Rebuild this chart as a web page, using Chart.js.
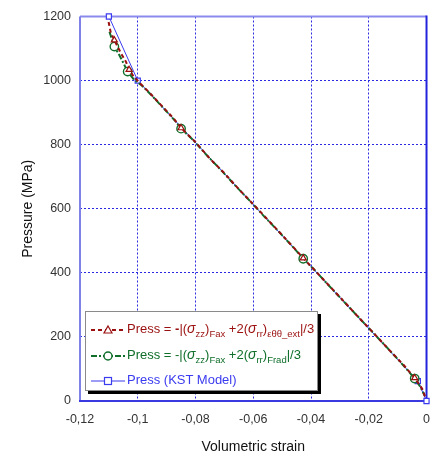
<!DOCTYPE html>
<html>
<head>
<meta charset="utf-8">
<script src="https://cdn.jsdelivr.net/npm/chart.js@4.4.0/dist/chart.umd.min.js"></script>
<style>
  body { margin: 0; background: #fff; }
  #wrap { position: relative; width: 441px; height: 457px; }
  #legend {
    position: absolute; left: 85px; top: 311px; width: 233px; height: 80px;
    background: #fff; border: 1px solid #8a8a8a; box-shadow: 3px 3px 0 #000;
    font-family: "Liberation Sans", Arial, sans-serif; font-size: 13px;
    padding-top: 3px; box-sizing: border-box;
  }
  #legend .row { height: 26px; line-height: 26px; white-space: nowrap; }
  #legend svg { vertical-align: middle; margin: 0 2px 0 5px; }
  #legend sub { font-size: 9.5px; vertical-align: -4px; line-height: 0; }
  #legend i { font-size: 14px; }
</style>
</head>
<body>
<div id="wrap">
  <canvas id="chart" width="441" height="457"></canvas>
  <div id="legend"></div>
</div>
<script>
// tick values and labels
const xTicks = [-0.12, -0.1, -0.08, -0.06, -0.04, -0.02, 0];
const xTickLabels = ["-0,12", "-0,1", "-0,08", "-0,06", "-0,04", "-0,02", "0"];
const yTicks = [0, 200, 400, 600, 800, 1000, 1200];
const yTickLabels = ["0", "200", "400", "600", "800", "1000", "1200"];

// Press = -|(szz)Fax + 2(srr)e_ext|/3
const redX = [-0.1101, -0.1094, -0.1081, -0.1058, -0.1041, -0.1030, -0.1018, -0.0995, -0.0960, -0.0920, -0.0880,
  -0.0850, -0.0800, -0.0750, -0.0700, -0.0650, -0.0600, -0.0550, -0.0500, -0.0450, -0.0427, -0.0380,
  -0.0330, -0.0280, -0.0230, -0.0180, -0.0130, -0.0080, -0.0041, -0.0015, -0.0003];
const redY = [1183, 1152, 1126, 1085, 1059, 1034, 1018, 994, 963, 924, 886, 852, 808, 756, 711, 661, 614, 566,
  518, 469, 446, 401, 353, 305, 256, 209, 160, 113, 72, 38, 8];

// Press = -|(szz)Fax + 2(srr)Frad|/3
const greenX = [-0.1098, -0.1092, -0.1081, -0.1064, -0.1052, -0.1035, -0.1013, -0.0985, -0.0950, -0.0910, -0.0870,
  -0.0850, -0.0810, -0.0760, -0.0710, -0.0660, -0.0610, -0.0560, -0.0510, -0.0460, -0.0427, -0.0390,
  -0.0340, -0.0290, -0.0240, -0.0190, -0.0140, -0.0090, -0.0041, -0.0020, -0.0007];
const greenY = [1152, 1136, 1106, 1080, 1059, 1028, 1003, 984, 952, 913, 874, 850, 816, 766, 719, 670, 623, 574,
  527, 478, 444, 411, 362, 314, 266, 218, 170, 121, 70, 42, 18];

// points that carry a marker in the two measured series
const markerIdx = [2, 5, 11, 20, 28];

// Press (KST Model)
const kstX = [-0.11, -0.1, -0.003, 0];
const kstY = [1200, 1000, 62, 0];

const RED = "#9a0f0f";
const GREEN = "#0f6e2a";
const BLUE = "#3b3bf0";

function pts(xs, ys) {
  return xs.map((x, i) => ({ x: x, y: ys[i] }));
}
function radii(n, r) {
  const out = [];
  for (let i = 0; i < n; i++) out.push(markerIdx.includes(i) ? r : 0);
  return out;
}

// plot frame, drawn under the data
const framePlugin = {
  id: "frame",
  beforeDatasetsDraw(chart) {
    const { ctx, chartArea: a } = chart;
    ctx.save();
    ctx.lineWidth = 2;
    const side = (x1, y1, x2, y2, c) => {
      ctx.strokeStyle = c;
      ctx.beginPath();
      ctx.moveTo(x1, y1);
      ctx.lineTo(x2, y2);
      ctx.stroke();
    };
    side(a.left, a.top, a.right, a.top, "#8a8aec");
    side(a.left, a.top, a.left, a.bottom, "#8080ea");
    side(a.right, a.top - 1, a.right, a.bottom, "#2323dc");
    side(a.left - 1, a.bottom, a.right + 1, a.bottom, "#3a3ae0");
    ctx.restore();
  }
};

const ctx = document.getElementById("chart").getContext("2d");
const chart = new Chart(ctx, {
  type: "scatter",
  data: {
    datasets: [
      {
        label: "Press = -|(σzz)Fax +2(σrr)εθθ_ext|/3",
        data: pts(redX, redY),
        showLine: true,
        clip: false,
        borderColor: RED,
        borderWidth: 2,
        borderDash: [4, 3],
        pointStyle: "triangle",
        pointRadius: radii(redX.length, 3.5),
        pointBackgroundColor: "#fff",
        pointBorderColor: RED,
        pointBorderWidth: 1.2,
      },
      {
        label: "Press = -|(σzz)Fax +2(σrr)Frad|/3",
        data: pts(greenX, greenY),
        showLine: true,
        clip: false,
        borderColor: GREEN,
        borderWidth: 2,
        borderDash: [6, 2, 2, 2],
        pointStyle: "circle",
        pointRadius: radii(greenX.length, 4.2),
        pointBackgroundColor: "#fff",
        pointBorderColor: GREEN,
        pointBorderWidth: 1.4,
      },
      {
        label: "Press (KST Model)",
        data: pts(kstX, kstY),
        showLine: true,
        clip: false,
        borderColor: BLUE,
        borderWidth: 1,
        pointStyle: "rect",
        pointRadius: 3.6,
        pointBackgroundColor: "#fff",
        pointBorderColor: BLUE,
        pointBorderWidth: 1.2,
      },
    ],
  },
  options: {
    responsive: false,
    animation: false,
    layout: { padding: { top: 13, right: 9, left: 0, bottom: 0 } },
    plugins: { legend: { display: false }, tooltip: { enabled: false } },
    scales: {
      x: {
        type: "linear",
        min: -0.12,
        max: 0,
        afterBuildTicks: (s) => { s.ticks = xTicks.map((v) => ({ value: v })); },
        afterFit: (s) => { s.height = 56; },
        ticks: {
          padding: 11,
          color: "#333",
          font: { family: "Liberation Sans, Arial", size: 12.5 },
          callback: (v, i) => xTickLabels[i],
        },
        grid: { color: "#2a2ae0", lineWidth: 1, drawTicks: false },
        border: { display: false, dash: [2, 2] },
        title: {
          display: true,
          text: "Volumetric strain",
          color: "#111",
          font: { family: "Liberation Sans, Arial", size: 14 },
          padding: { top: 0, bottom: 1 },
        },
      },
      y: {
        min: 0,
        max: 1200,
        afterBuildTicks: (s) => { s.ticks = yTicks.map((v) => ({ value: v })); },
        afterFit: (s) => { s.width = 80; },
        ticks: {
          padding: 9,
          color: "#333",
          font: { family: "Liberation Sans, Arial", size: 12.5 },
          callback: (v, i) => yTickLabels[i],
        },
        grid: { color: "#2a2ae0", lineWidth: 1, drawTicks: false },
        border: { display: false, dash: [2, 2] },
        title: {
          display: true,
          text: "Pressure (MPa)",
          color: "#111",
          font: { family: "Liberation Sans, Arial", size: 14 },
          padding: { top: 20, bottom: 0 },
        },
      },
    },
  },
  plugins: [framePlugin],
});

// HTML legend (needs subscripts)
const legendRows = [
  { color: RED, html: 'Press = <b>-</b>|(<i>σ</i><sub>zz</sub>)<sub>Fax</sub> +2(<i>σ</i><sub>rr</sub>)<sub>εθθ_ext</sub>|/3' },
  { color: GREEN, html: 'Press = -|(<i>σ</i><sub>zz</sub>)<sub>Fax</sub> +2(<i>σ</i><sub>rr</sub>)<sub>Frad</sub>|/3' },
  { color: BLUE, html: 'Press (KST Model)' },
];

function sample(ds) {
  const dash = ds.borderDash ? ds.borderDash.join(",") : "none";
  let mark = "";
  if (ds.pointStyle === "triangle") mark = '<polygon points="17,2 21,9 13,9" fill="#fff" stroke="' + ds.borderColor + '" stroke-width="1.2"/>';
  if (ds.pointStyle === "circle") mark = '<circle cx="17" cy="6" r="4" fill="#fff" stroke="' + ds.borderColor + '" stroke-width="1.4"/>';
  if (ds.pointStyle === "rect") mark = '<rect x="13.5" y="2.5" width="7" height="7" fill="#fff" stroke="' + ds.borderColor + '" stroke-width="1.2"/>';
  return '<svg width="34" height="12"><line x1="0" y1="6" x2="34" y2="6" stroke="' + ds.borderColor +
    '" stroke-width="' + ds.borderWidth + '" stroke-dasharray="' + dash + '"/>' + mark + '</svg>';
}

document.getElementById("legend").innerHTML = legendRows.map((r, i) =>
  '<div class="row" style="color:' + r.color + '">' + sample(chart.data.datasets[i]) + r.html + '</div>'
).join("");
</script>
</body>
</html>
